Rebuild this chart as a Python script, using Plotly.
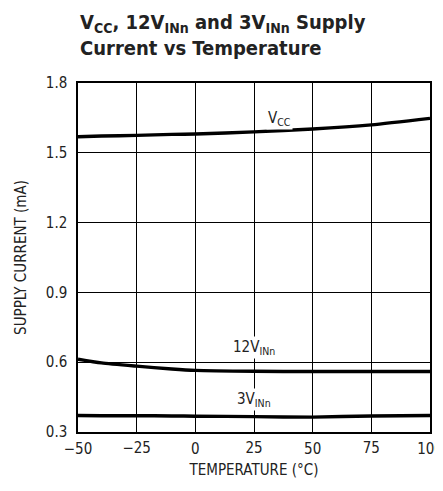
import plotly.graph_objects as go

temps = [-50, -40, -25, -10, 0, 25, 50, 75, 100]
vcc = [1.569, 1.572, 1.575, 1.579, 1.581, 1.590, 1.602, 1.620, 1.648]
v12 = [0.613, 0.597, 0.583, 0.571, 0.565, 0.561, 0.560, 0.560, 0.560]
v3 = [0.371, 0.370, 0.370, 0.369, 0.368, 0.366, 0.364, 0.369, 0.371]

xticks_a = [-50, 0, 50, 100]
xticks_b = [-25, 25, 75]
yticks = [0.3, 0.6, 0.9, 1.2, 1.5, 1.8]

FONT = "DejaVu Sans Condensed, Liberation Sans Narrow, sans-serif"

fig = go.Figure()
for ys in (vcc, v12, v3):
    fig.add_trace(go.Scatter(x=temps, y=ys, mode="lines", line=dict(color="black", width=3.4, shape="spline", smoothing=0.6),
                             showlegend=False, hoverinfo="skip"))
fig.add_trace(go.Scatter(x=[-50, 100], y=[0.3, 0.3], xaxis="x2", mode="lines", line=dict(width=0), showlegend=False, hoverinfo="skip"))

fig.update_layout(
    width=435, height=483,
    margin=dict(l=70, r=13, t=75, b=59),
    paper_bgcolor="white", plot_bgcolor="white",
    font=dict(family=FONT, color="#222", size=15),
    xaxis=dict(range=[-50, 100], tickvals=xticks_a, ticktext=["\u221250", "0", "50", "100"],
               showgrid=True, gridcolor="black", gridwidth=1, showline=True, linecolor="black", linewidth=1.5, mirror=True,
               zeroline=False, ticks="", ticklabelstandoff=2, tickfont=dict(size=15), automargin=False,
               ticklabeloverflow="allow",
               title=dict(text="TEMPERATURE (\u00b0C)", font=dict(size=15), standoff=8)),
    xaxis2=dict(range=[-50, 100], overlaying="x", side="bottom", tickvals=xticks_b, ticktext=["\u221225", "25", "75"],
                showgrid=True, gridcolor="black", gridwidth=1, showline=False, zeroline=False, ticks="",
                ticklabelstandoff=5, tickfont=dict(size=15), anchor="y", automargin=False, ticklabeloverflow="allow"),
    yaxis=dict(range=[0.3, 1.8], tickvals=yticks, ticktext=["0.3", "0.6", "0.9", "1.2", "1.5", "1.8"],
               showgrid=True, gridcolor="black", gridwidth=1, showline=True, linecolor="black", linewidth=1.5, mirror=True,
               zeroline=False, ticks="", ticklabelstandoff=6, tickfont=dict(size=15), automargin=False,
               title=dict(text="SUPPLY CURRENT (mA)", font=dict(size=15), standoff=16)),
)

fig.add_annotation(xref="paper", yref="paper", x=0, y=1.06, xanchor="left", yanchor="bottom", align="left",
                   text="<b>V<sub>CC</sub>, 12V<sub>INn</sub> and 3V<sub>INn</sub> Supply<br>Current vs Temperature</b>",
                   showarrow=False, font=dict(size=20, color="#222"))

labels = [(36, 1.648, "V<sub>CC</sub>"), (25, 0.662, "12V<sub>INn</sub>"), (25, 0.439, "3V<sub>INn</sub>")]
for x, y, t in labels:
    fig.add_annotation(x=x, y=y, text=t, showarrow=False, bgcolor="white", font=dict(size=15, color="#222"),
                       borderpad=1)

fig.write_html("out.html")
